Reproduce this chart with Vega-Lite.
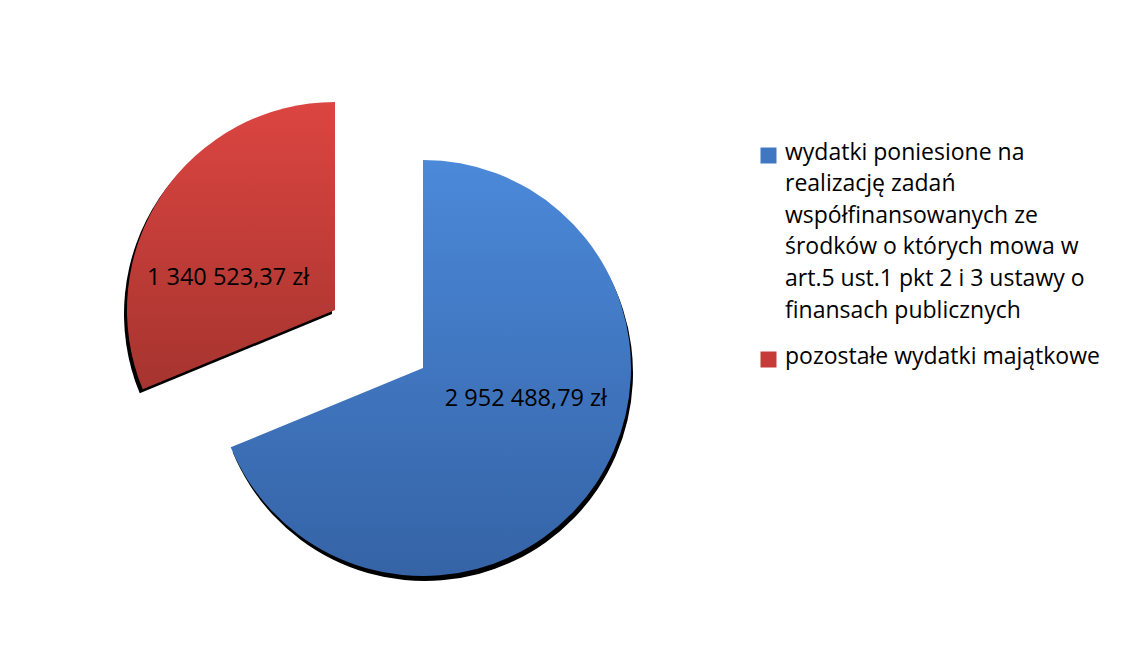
{
  "$schema": "https://vega.github.io/schema/vega-lite/v6.json",
  "autosize": "none",
  "width": 846,
  "height": 576,
  "padding": {"top": 80, "left": 0, "right": 276, "bottom": 0},
  "background": "white",
  "config": {
    "view": {"stroke": null},
    "font": "Open Sans",
    "locale": {"number": {"decimal": ",", "thousands": " ", "grouping": [3], "currency": ["", " zł"]}}
  },
  "data": {"values": [
    {"kategoria": "wydatki poniesione na realizację zadań współfinansowanych ze środków o których mowa w art.5 ust.1 pkt 2 i 3 ustawy o finansach publicznych", "kwota": 2952488.79},
    {"kategoria": "pozostałe wydatki majątkowe", "kwota": 1340523.37}
  ]},
  "encoding": {
    "theta": {"field": "kwota", "type": "quantitative", "stack": true},
    "order": {"field": "kwota", "type": "quantitative", "sort": "descending"}
  },
  "layer": [
    {
      "mark": {"type": "arc", "radius": 208, "fill": "#000000", "xOffset": 2, "yOffset": 5},
      "encoding": {"opacity": {"condition": {"test": "datum.kategoria === 'pozostałe wydatki majątkowe'", "value": 0}, "value": 1}}
    },
    {
      "mark": {"type": "arc", "radius": 208, "fill": "#000000", "xOffset": -91, "yOffset": -54},
      "encoding": {"opacity": {"condition": {"test": "datum.kategoria === 'pozostałe wydatki majątkowe'", "value": 1}, "value": 0}}
    },
    {
      "mark": {"type": "arc", "radius": 208,
        "fill": {"gradient": "linear", "x1": 0, "y1": 0, "x2": 0, "y2": 1, "stops": [{"offset": 0, "color": "#4b89d9"}, {"offset": 1, "color": "#3563a6"}]}},
      "encoding": {"opacity": {"condition": {"test": "datum.kategoria === 'pozostałe wydatki majątkowe'", "value": 0}, "value": 1}}
    },
    {
      "mark": {"type": "arc", "radius": 208, "xOffset": -88, "yOffset": -58,
        "fill": {"gradient": "linear", "x1": 0, "y1": 0, "x2": 0, "y2": 1, "stops": [{"offset": 0, "color": "#dc4541"}, {"offset": 1, "color": "#a6342f"}]}},
      "encoding": {"opacity": {"condition": {"test": "datum.kategoria === 'pozostałe wydatki majątkowe'", "value": 1}, "value": 0}}
    },
    {
      "mark": {"type": "arc", "radius": 208, "opacity": 0},
      "encoding": {
        "color": {"field": "kategoria", "type": "nominal", "sort": null,
          "scale": {"range": ["#3f77c2", "#c43b37"]},
          "legend": {
            "title": null, "orient": "none", "legendX": 757, "legendY": 64,
            "symbolType": "square", "symbolSize": 256, "symbolOpacity": 1,
            "symbolStrokeWidth": 0, "labelFontSize": 23, "labelFont": "Open Sans", "labelColor": "#000000",
            "labelLimit": 400, "rowPadding": 22, "labelOffset": 5, "padding": 0,
            "labelBaseline": "top",
            "labelExpr": "datum.label === 'pozostałe wydatki majątkowe' ? datum.label : ['wydatki poniesione na', 'realizację zadań', 'współfinansowanych ze', 'środków o których mowa w', 'art.5 ust.1 pkt 2 i 3 ustawy o', 'finansach publicznych']",
            "encode": {"labels": {"update": {"lineHeight": {"value": 31.6}, "dy": {"value": -14}}}}
          }
        }
      }
    },
    {
      "mark": {"type": "text", "radius": 107, "dx": 14, "dy": -29, "fontSize": 23.5, "font": "Open Sans", "color": "#000000"},
      "encoding": {
        "text": {"field": "kwota", "type": "quantitative", "format": "$,.2f"},
        "opacity": {"condition": {"test": "datum.kategoria === 'pozostałe wydatki majątkowe'", "value": 0}, "value": 1}
      }
    },
    {
      "mark": {"type": "text", "radius": 107, "dx": -106, "dy": -30, "fontSize": 23.5, "font": "Open Sans", "color": "#000000"},
      "encoding": {
        "text": {"field": "kwota", "type": "quantitative", "format": "$,.2f"},
        "opacity": {"condition": {"test": "datum.kategoria === 'pozostałe wydatki majątkowe'", "value": 1}, "value": 0}
      }
    }
  ]
}
